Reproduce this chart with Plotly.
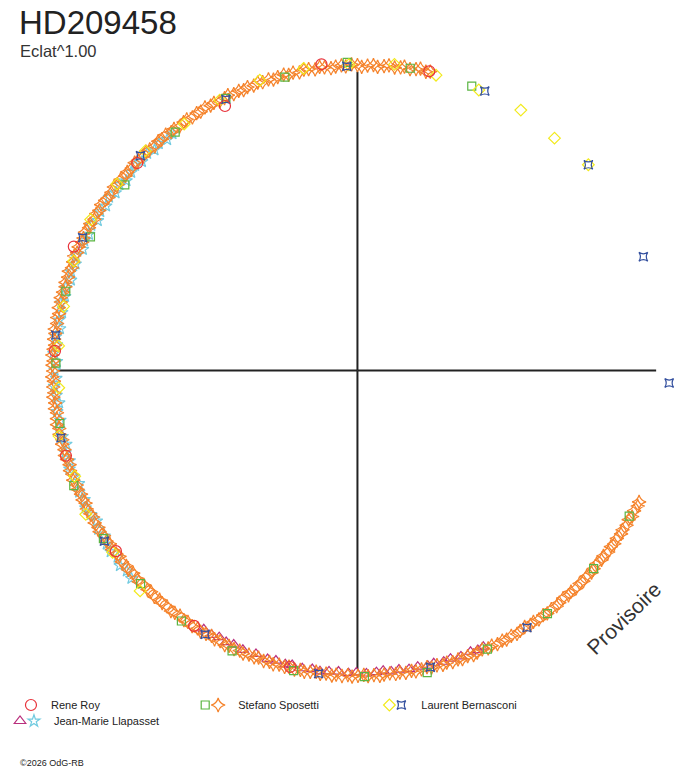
import plotly.graph_objects as go

# phases in degrees, radius = Eclat normalised (1.000 ~ mean level)
roy_phase = [76.5, 96.7, 116.6, 136.7, 156.4, 176.3, 196.3, 216.8, 237.4, 257.2]
roy_eclat = [1.010, 1.012, 0.971, 0.993, 1.016, 0.995, 0.997, 0.990, 0.995, 0.998]

spo_sq_phase = [68.1, 80.1, 91.9, 103.9, 115.8, 127.4, 141.4, 153.4, 164.8, 178.6, 190.1, 202.1,
                213.5, 224.5, 234.9, 245.9, 258.0, 271.3, 283.0, 295.0, 308.0, 320.0, 331.8]
spo_sq_eclat = [1.006, 1.007, 1.012, 0.992, 0.992, 0.985, 0.977, 0.980, 0.992, 0.990, 0.992, 1.005,
                1.000, 0.998, 1.005, 1.008, 1.007, 1.005, 1.018, 1.009, 1.013, 1.012, 1.012]

spo_st_phase = [
    76.3, 77.1, 78.2, 79.0, 80.1, 81.2, 81.9, 83.0, 84.1, 85.0,
    86.2, 87.0, 88.1, 89.2, 90.0, 91.1, 92.2, 93.0, 94.1, 95.0,
    96.2, 97.1, 98.0, 99.2, 100.1, 101.0, 102.2, 103.1, 104.0, 105.2,
    106.1, 107.0, 108.2, 109.1, 110.0, 111.2, 112.1, 113.0, 114.1, 115.2,
    116.0, 117.1, 118.2, 119.0, 120.1, 121.2, 122.0, 123.1, 124.2, 125.0,
    126.1, 127.2, 128.0, 129.1, 130.2, 131.0, 132.1, 133.2, 134.0, 135.1,
    136.2, 137.0, 138.1, 139.2, 140.0, 141.1, 142.2, 143.0, 144.1, 145.2,
    146.0, 147.1, 148.2, 149.0, 150.1, 151.2, 152.0, 153.1, 154.2, 155.0,
    156.1, 157.2, 158.0, 159.1, 160.2, 161.0, 162.1, 163.2, 164.0, 165.1,
    166.2, 167.0, 168.1, 169.2, 170.0, 171.1, 172.2, 173.0, 174.1, 175.2,
    176.0, 177.1, 178.2, 179.0, 180.1, 181.2, 182.0, 183.1, 184.2, 185.0,
    186.1, 187.2, 188.0, 189.1, 190.2, 191.0, 192.1, 193.2, 194.0, 195.1,
    196.2, 197.0, 198.1, 199.2, 200.0, 201.1, 202.2, 203.0, 204.1, 205.2,
    206.0, 207.1, 208.2, 209.0, 210.1, 211.2, 212.0, 213.1, 214.2, 215.0,
    216.1, 217.2, 218.0, 219.1, 220.2, 221.0, 222.1, 223.2, 224.0, 225.1,
    226.2, 227.0, 228.1, 229.2, 230.0, 231.1, 232.2, 233.0, 234.1, 235.2,
    236.0, 237.1, 238.2, 239.0, 240.1, 241.2, 242.0, 243.1, 244.2, 245.0,
    246.1, 247.2, 248.0, 249.1, 250.2, 251.0, 252.1, 253.2, 254.0, 255.1,
    256.2, 257.0, 258.1, 259.2, 260.0, 261.1, 262.2, 263.0, 264.1, 265.2,
    266.0, 267.1, 268.2, 269.0, 270.1, 271.2, 272.0, 273.1, 274.2, 275.0,
    276.1, 277.2, 278.0, 279.1, 280.2, 281.0, 282.1, 283.2, 284.0, 285.1,
    286.2, 287.0, 288.1, 289.2, 290.0, 291.1, 292.2, 293.0, 294.1, 295.2,
    296.0, 297.1, 298.2, 299.0, 300.1, 301.2, 302.0, 303.1, 304.2, 305.0,
    306.1, 307.2, 308.0, 309.1, 310.2, 311.0, 312.1, 313.2, 314.0, 315.1,
    316.2, 317.0, 318.1, 319.2, 320.0, 321.1, 322.2, 323.0, 324.1, 325.2,
    326.0, 327.1, 328.2, 329.0, 330.1, 331.2, 332.0, 333.1, 334.2, 335.0]
spo_st_eclat = [
    1.010, 1.006, 1.012, 1.008, 1.004, 1.009, 1.005, 1.002, 1.007, 1.003,
    0.999, 1.004, 1.001, 0.997, 1.002, 1.005, 0.999, 1.003, 1.000, 0.996,
    1.001, 1.004, 0.998, 1.002, 1.003, 0.997, 1.000, 0.996, 1.001, 0.998,
    0.994, 0.999, 0.996, 1.000, 0.995, 0.998, 0.993, 0.997, 0.994, 0.999,
    0.995, 0.992, 0.997, 0.994, 0.998, 0.993, 0.996, 0.992, 0.997, 0.995,
    0.991, 0.996, 0.993, 0.998, 0.994, 0.997, 0.992, 0.996, 0.999, 0.994,
    0.997, 1.000, 0.995, 0.998, 0.994, 0.999, 0.996, 1.001, 0.997, 0.995,
    0.999, 1.002, 0.997, 1.000, 0.996, 1.001, 0.998, 1.003, 0.999, 0.997,
    1.001, 0.998, 1.003, 0.999, 0.996, 1.002, 0.998, 1.001, 0.997, 1.000,
    1.003, 0.999, 1.002, 0.997, 1.001, 0.998, 1.003, 0.999, 1.001, 0.996,
    1.000, 1.003, 0.998, 1.001, 0.999, 1.002, 0.997, 1.000, 0.998, 1.002,
    0.998, 1.001, 0.996, 0.999, 1.002, 0.997, 1.000, 0.995, 0.999, 0.996,
    1.000, 0.997, 0.994, 0.999, 0.996, 1.000, 0.995, 0.998, 0.994, 0.997,
    0.993, 0.998, 0.995, 0.992, 0.997, 0.994, 0.998, 0.993, 0.996, 0.992,
    0.997, 0.994, 0.991, 0.996, 0.993, 0.997, 0.992, 0.995, 0.998, 0.993,
    0.996, 0.993, 0.998, 0.994, 0.997, 0.995, 0.999, 0.996, 0.993, 0.998,
    0.995, 0.999, 0.996, 1.000, 0.997, 0.994, 0.999, 0.996, 1.001, 0.997,
    1.000, 0.997, 1.002, 0.998, 1.001, 0.997, 1.002, 0.999, 1.003, 0.999,
    1.002, 0.998, 1.003, 1.000, 1.004, 1.001, 0.998, 1.003, 1.000, 1.005,
    1.001, 1.004, 1.000, 1.005, 1.002, 0.999, 1.004, 1.001, 1.005, 1.002,
    1.000, 1.004, 1.001, 1.005, 1.002, 1.006, 1.003, 1.000, 1.005, 1.002,
    1.006, 1.003, 1.007, 1.004, 1.008, 1.005, 1.009, 1.006, 1.003, 1.008,
    1.005, 1.009, 1.006, 1.010, 1.007, 1.011, 1.008, 1.005, 1.010, 1.007,
    1.011, 1.008, 1.012, 1.009, 1.013, 1.010, 1.007, 1.012, 1.009, 1.013,
    1.010, 1.014, 1.011, 1.015, 1.012, 1.009, 1.014, 1.011, 1.016, 1.013,
    1.017, 1.014, 1.018, 1.015, 1.019, 1.016, 1.021, 1.018, 1.022, 1.020]

ber_di_phase = [41.7, 49.7, 57.9, 66.6, 75.1, 83.1, 91.6, 100.1, 108.6, 117.0, 125.1, 134.0,
                142.2, 150.5, 158.9, 167.7, 175.3, 183.3, 192.4, 200.5, 207.9, 216.6, 225.4]
ber_di_eclat = [1.015, 1.000, 1.009, 1.003, 1.003, 1.012, 1.004, 1.007, 1.005, 0.996, 0.989, 1.002,
                0.999, 1.006, 0.998, 0.987, 0.984, 0.982, 1.003, 0.991, 1.009, 1.001, 1.016]

ber_st_phase = [357.7, 21.7, 41.7, 65.5, 92.0, 115.9, 135.3, 154.2, 173.3, 192.8, 214.0,
                240.0, 262.7, 283.8, 303.4]
ber_st_eclat = [1.024, 1.010, 1.015, 1.008, 0.999, 0.989, 1.002, 1.002, 0.997, 0.998, 1.002,
                1.000, 1.003, 1.003, 1.011]

lla_tr_phase = [239.3, 241.1, 242.6, 244.2, 245.7, 247.7, 250.3, 252.7, 254.3, 256.2, 257.5,
                259.5, 261.4, 262.9, 264.6, 266.4, 268.3, 269.8, 271.7, 273.6, 274.9, 276.4,
                277.9, 279.8, 281.5, 283.4, 284.6, 286.5, 287.9, 289.9, 291.9, 293.3, 294.5]
lla_tr_eclat = [0.988, 0.991, 0.986, 0.990, 0.987, 0.991, 0.988, 0.992, 0.989, 0.993, 0.990,
                0.994, 0.991, 0.995, 0.992, 0.990, 0.994, 0.991, 0.995, 0.992, 0.989, 0.994,
                0.991, 0.995, 0.992, 0.996, 0.993, 0.997, 0.994, 0.998, 0.995, 0.999, 0.996]

lla_st_phase = [128.0, 129.5, 131.2, 132.6, 134.1, 135.9, 137.3, 138.8, 140.6, 142.0, 143.7,
                145.1, 146.8, 148.3, 150.0, 151.4, 153.1, 154.6, 156.2, 157.9, 159.3, 161.0,
                162.5, 164.1, 165.8, 167.2, 168.9, 170.4, 172.0, 173.6, 175.1, 176.8, 178.3,
                179.9, 181.5, 183.0, 184.7, 186.2, 187.8, 189.5, 191.0, 192.6, 194.2, 195.7,
                197.4, 198.9, 200.5, 202.1, 203.6, 205.3, 206.8, 208.4, 210.0, 211.5, 213.2,
                214.7, 216.3, 217.9, 219.4, 221.0, 222.6]
lla_st_eclat = [0.986, 0.982, 0.990, 0.984, 0.992, 0.985, 0.993, 0.987, 0.981, 0.991, 0.985,
                0.994, 0.986, 0.992, 0.984, 0.995, 0.988, 0.993, 0.985, 0.997, 0.989, 0.994,
                0.986, 0.995, 0.990, 0.998, 0.988, 0.993, 0.986, 0.996, 0.990, 0.999, 0.987,
                0.994, 0.989, 0.997, 0.991, 0.985, 0.995, 0.989, 0.998, 0.992, 0.986, 0.996,
                0.990, 0.999, 0.993, 0.987, 0.997, 0.991, 1.000, 0.994, 0.988, 0.998, 0.992,
                1.001, 1.005, 0.998, 1.009, 1.003, 1.008]

RED = '#e8323a'
GREEN = '#5bb543'
ORANGE = '#f5822a'
YELLOW = '#f2ea1c'
BLUE = '#34509f'
MAGENTA = '#b92f7d'
CYAN = '#72cbe0'

W, H = 688, 768
cx, cy = 356, 370.5
r_cross = 300     # half length of the cross, px
r_data = 330      # outer radius of the data polar, px
px_per_unit = 306  # Eclat 1.000 lies at this radius

fig = go.Figure()

# empty trace so that the cross polar is drawn
fig.add_trace(go.Scatterpolar(r=[], theta=[], subplot='polar', showlegend=False, hoverinfo='skip'))


def add(phase, eclat, name, symbol, color, size, legend):
    fig.add_trace(go.Scatterpolar(
        r=eclat, theta=phase, mode='markers', name=name, legend=legend, subplot='polar2',
        hoverinfo='skip',
        marker=dict(symbol=symbol, size=size, color=color, line=dict(color=color, width=1.2))))


# dense series first, sparse ones on top
add(lla_st_phase, lla_st_eclat, 'Jean-Marie Llapasset', 'star-open', CYAN, 9, 'legend6')
add(lla_tr_phase, lla_tr_eclat, '', 'triangle-up-open', MAGENTA, 10, 'legend7')
add(spo_st_phase, spo_st_eclat, 'Stefano Sposetti', 'star-diamond-open', ORANGE, 10, 'legend3')
add(spo_sq_phase, spo_sq_eclat, '', 'square-open', GREEN, 8, 'legend2')
add(ber_di_phase, ber_di_eclat, '', 'diamond-open', YELLOW, 9, 'legend4')
add(ber_st_phase, ber_st_eclat, 'Laurent Bernasconi', 'star-square-open', BLUE, 8, 'legend5')
add(roy_phase, roy_eclat, 'Rene Roy', 'circle-open', RED, 11, 'legend')

lfont = dict(family='Liberation Sans, Arial', size=11, color='#222')


def leg(xpix, ypix):
    return dict(x=xpix / W, y=1 - ypix / H, xanchor='left', yanchor='middle',
                bgcolor='rgba(0,0,0,0)', font=lfont, borderwidth=0)


def dom(rad):
    return dict(x=[(cx - rad) / W, (cx + rad) / W], y=[(H - cy - rad) / H, (H - cy + rad) / H])


hidden_ang = dict(showgrid=False, showline=False, showticklabels=False, ticks='')

fig.update_layout(
    width=W, height=H,
    margin=dict(l=0, r=0, t=0, b=0),
    paper_bgcolor='white',
    showlegend=True,
    polar=dict(
        domain=dom(r_cross),
        bgcolor='white',
        radialaxis=dict(range=[0, 1], visible=False, showgrid=False),
        angularaxis=dict(showgrid=True, gridcolor='#222', gridwidth=1.5, tick0=0, dtick=90,
                         showline=False, showticklabels=False, ticks=''),
    ),
    polar2=dict(
        domain=dom(r_data),
        bgcolor='rgba(0,0,0,0)',
        radialaxis=dict(range=[0, r_data / px_per_unit], visible=False, showgrid=False),
        angularaxis=hidden_ang,
    ),
    legend=leg(8, 705),
    legend2=leg(183, 705),
    legend3=leg(196, 705),
    legend4=leg(368, 705),
    legend5=leg(380, 705),
    legend7=leg(-3, 721),
    legend6=leg(11, 721),
    annotations=[
        dict(text='HD209458', x=14 / W, y=1 - 22 / H, xref='paper', yref='paper', xanchor='left',
             yanchor='middle', showarrow=False,
             font=dict(family='Liberation Sans, Arial', size=33, color='#222')),
        dict(text='Eclat^1.00', x=15 / W, y=1 - 51 / H, xref='paper', yref='paper', xanchor='left',
             yanchor='middle', showarrow=False,
             font=dict(family='Liberation Sans, Arial', size=16.5, color='#333')),
        dict(text='Provisoire', x=623 / W, y=1 - 618 / H, xref='paper', yref='paper',
             xanchor='center', yanchor='middle', textangle=-44, showarrow=False,
             font=dict(family='Liberation Sans, Arial', size=21, color='#333')),
        dict(text='©2026 OdG-RB', x=15 / W, y=1 - 763 / H, xref='paper', yref='paper', xanchor='left',
             yanchor='middle', showarrow=False,
             font=dict(family='Liberation Sans, Arial', size=9, color='#222')),
    ],
)

# page without the default body margin so the figure fills the window
fig.write_html('out.html', config={'displayModeBar': False},
               post_script="document.body.style.margin='0';")
